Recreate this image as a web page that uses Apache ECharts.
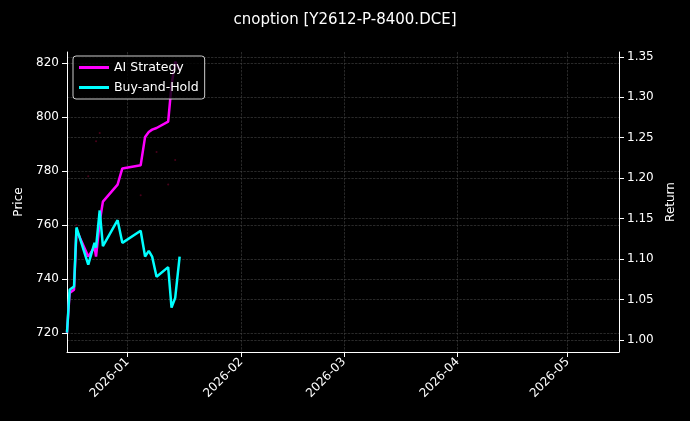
<!DOCTYPE html>
<html>
<head>
<meta charset="utf-8">
<script src="https://cdn.jsdelivr.net/npm/echarts@6/dist/echarts.min.js"></script>
<style>html,body{margin:0;background:#000;}#main{width:690px;height:421px;}</style>
</head>
<body>
<div id="main"></div>
<script>
var dates = ['2025-12-15 12:00','2025-12-16 05:00','2025-12-17 10:00','2025-12-18 02:00','2025-12-21 07:00',
  '2025-12-23 00:00','2025-12-23 10:00','2025-12-24 10:00','2025-12-25 07:00','2025-12-29 07:00',
  '2025-12-30 14:00','2026-01-04 14:00','2026-01-05 19:00','2026-01-06 19:00','2026-01-07 17:00',
  '2026-01-08 22:00','2026-01-12 02:00','2026-01-13 00:00','2026-01-14 00:00','2026-01-15 05:00'];
var aiReturn = [1.009,1.058,1.062,1.136,1.103,1.115,1.103,1.146,1.171,1.192,1.212,1.216,1.251,1.257,1.260,1.262,1.270,1.315,1.344,1.334];
var bhReturn = [1.009,1.062,1.066,1.139,1.093,1.120,1.114,1.160,1.116,1.148,1.120,1.135,1.103,1.110,1.103,1.078,1.090,1.040,1.052,1.103];
// faint price marks
var priceDates = ['2025-12-21 07:00','2025-12-23 10:00','2025-12-24 10:00','2025-12-18 02:00','2026-01-04 14:00','2026-01-08 22:00','2026-01-12 02:00','2026-01-14 00:00'];
var priceVals = [778,791,794,760,771,787,775,784];
var priceTicks = [720, 740, 760, 780, 800, 820];
var returnTicks = [1, 1.05, 1.1, 1.15, 1.2, 1.25, 1.3, 1.35];

var chart = echarts.init(document.getElementById('main'));
function zip(a, b) { return a.map(function (d, i) { return [d, b[i]]; }); }
var gridLine = { show: true, lineStyle: { color: '#444', type: 'dashed', width: 0.6 } };
var font = { color: '#fff', fontSize: 12, fontFamily: 'DejaVu Sans' };

chart.setOption({
  backgroundColor: '#000',
  title: { text: 'cnoption [Y2612-P-8400.DCE]', left: 'center', top: 8,
    textStyle: { color: '#fff', fontSize: 15, fontWeight: 'normal', fontFamily: 'DejaVu Sans' } },
  legend: {
    left: 73, top: 56, orient: 'vertical', itemGap: 7,
    backgroundColor: 'rgba(0,0,0,0.8)', borderColor: '#ccc', borderWidth: 1, borderRadius: 3,
    padding: [5, 6], itemWidth: 30, itemHeight: 3,
    textStyle: { color: '#fff', fontSize: 12.5, fontFamily: 'DejaVu Sans' },
    data: [{ name: 'AI Strategy', icon: 'rect' }, { name: 'Buy-and-Hold', icon: 'rect' }]
  },
  grid: { left: 67, right: 71, top: 52, bottom: 69 },
  xAxis: {
    type: 'time', min: '2025-12-15 12:00', max: '2026-05-15 00:00',
    minInterval: 28 * 86400000, maxInterval: 31 * 86400000,
    axisLine: { lineStyle: { color: '#fff' } },
    axisTick: { lineStyle: { color: '#fff' } },
    splitLine: gridLine,
    axisLabel: Object.assign({ rotate: 45,
      formatter: function (v) { var d = new Date(v); return d.getFullYear() + '-' + String(d.getMonth() + 1).padStart(2, '0'); } }, font)
  },
  yAxis: [{
    type: 'value', min: 713, max: 824, name: 'Price', nameLocation: 'middle', nameGap: 42,
    nameTextStyle: font,
    axisLine: { show: true, lineStyle: { color: '#fff' } },
    axisTick: { show: true, customValues: priceTicks },
    axisLabel: Object.assign({ customValues: priceTicks }, font),
    splitLine: gridLine
  }, {
    type: 'value', min: 0.985, max: 1.356, name: 'Return', nameLocation: 'middle', nameGap: 45,
    nameTextStyle: font,
    axisLine: { show: true, lineStyle: { color: '#fff' } },
    axisTick: { show: true, customValues: returnTicks },
    axisLabel: Object.assign({ customValues: returnTicks, formatter: function (v) { return v.toFixed(2); } }, font),
    splitLine: gridLine
  }],
  series: [{
    name: 'Price', type: 'scatter', yAxisIndex: 0, symbolSize: 2, silent: true,
    itemStyle: { color: '#5a0020' }, data: zip(priceDates, priceVals)
  }, {
    name: 'AI Strategy', type: 'line', yAxisIndex: 1, showSymbol: false,
    lineStyle: { color: '#ff00ff', width: 2.5 }, itemStyle: { color: '#ff00ff' },
    data: zip(dates, aiReturn)
  }, {
    name: 'Buy-and-Hold', type: 'line', yAxisIndex: 1, showSymbol: false,
    lineStyle: { color: '#00ffff', width: 2.5 }, itemStyle: { color: '#00ffff' },
    data: zip(dates, bhReturn)
  }]
});
</script>
</body>
</html>
